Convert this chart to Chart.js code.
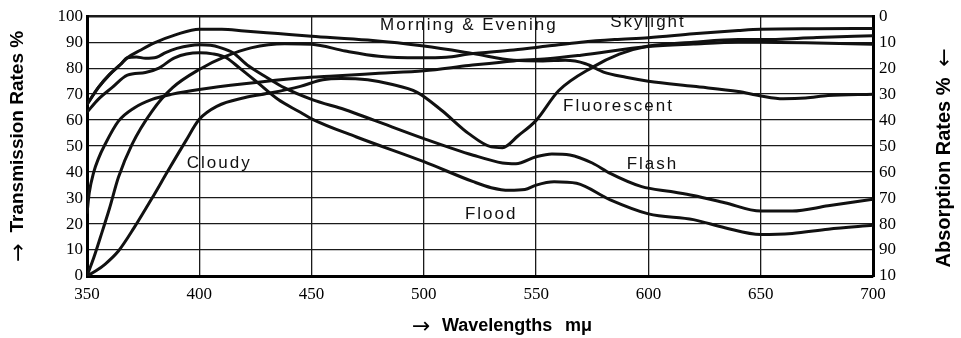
<!DOCTYPE html>
<html><head><meta charset="utf-8">
<script src="https://cdn.jsdelivr.net/npm/chart.js@4.4.1/dist/chart.umd.min.js"></script>
<style>html,body{margin:0;padding:0;background:#fff;}canvas{display:block;}</style>
</head><body>
<canvas id="c" width="961" height="338" style="width:961px;height:338px"></canvas>
<script>
// ---- data (wavelength in mμ, transmission in %) ----
const morningNm = [350,355,360,365,368,374,380,390,400,410,420,435,450,475,500,522,540,553,563,572,580,590,600,620,640,650,660,670,680,700];
const morningT  = [66,72.5,77.5,81.5,84,87,89.7,93,95,95,94.3,93.3,92.3,90.8,88.5,85.6,83,82.8,83,81.7,78.5,76.5,75,73,71,69.3,68.2,68.5,69.5,70];

const flashNm = [350,355,360,365,368,372,376,381,385,390,400,405,409,415,422,429,438,450,465,478,500,522,535,541,550,557,565,575,583,597,610,620,634,650,664,680,700];
const flashT  = [66,72.5,77.5,81.5,84,84.3,83.8,84.2,86,87.6,89,88.8,88,85.9,80.8,77,72.4,68,64,59.9,52.9,46.5,43.5,43.2,45.9,47,46.6,43.5,39.5,34.4,32.5,31,28.2,25,25,27,29.5];

const floodNm = [350,355,361,368,376,382,389,400,406,412,418,426,435,445,450,470,500,522,530,538,545,550,558,568,583,600,620,634,650,664,680,700];
const floodT  = [63,68,72.4,77.3,78.3,80,84,85.9,85.5,84,80,74.4,68,63,60.5,53.5,44,36.3,34,33,33.3,35,36.3,35.7,29.3,23.9,21.7,18.6,16,16.4,18,19.5];

const skylightNm = [350,353,356,360,364,370,379,388,400,412,423,438,450,465,480,498,510,520,540,555,570,585,600,620,640,650,675,700];
const skylightT  = [0,7,15,26,38,50.6,63.5,72.4,79.5,84.6,87.8,89.4,89.2,86.6,84.6,84,84.2,85.4,87,88.5,90,91,91.7,93.2,94.5,95,95.2,95.3];

const cloudyNm = [350,351,353,355,358,364,371,379,388,400,420,445,460,480,500,520,540,555,570,600,620,640,650,670,700];
const cloudyT  = [24,32,40,45,50.6,59.6,64.7,68,70,71.8,74,76.2,77,78,79,81,82.8,83.6,85,88.3,89.3,90,90,89.8,89.2];

const fluorNm = [350,354,358,364,371,379,386,394,400,408,420,432,445,455,463,475,485,497,508,520,530,535,542,550,560,575,587,600,620,640,650,675,700];
const fluorT  = [0,2,4.5,9.6,18.6,30,40.4,52,60.3,65.4,68.6,70.5,73,75.5,76,75.5,73.9,70.7,63.7,54.8,49.7,49.4,54,59.9,71.3,80.3,85.4,88.5,90,91,91,91.8,92.5];

const seriesNames = ['Morning & Evening','Flash','Flood','Skylight','Cloudy','Fluorescent'];
const seriesNm = [morningNm, flashNm, floodNm, skylightNm, cloudyNm, fluorNm];
const seriesT  = [morningT, flashT, floodT, skylightT, cloudyT, fluorT];

const rightTickLabels = ['10','90','80','70','60','50','40','30','20','10','0'];

// curve labels drawn inside the plot: [text, wavelength of left edge, baseline %]
const curveLabels = [
  ['Morning & Evening', 480.5, 94.5],
  ['Skylight', 583, 96],
  ['Fluorescent', 562, 63.5],
  ['Flash', 590.3, 41],
  ['Flood', 518.3, 21.8],
  ['Cloudy', 394.4, 41.7]
];

const datasets = seriesNames.map((name, i) => ({
  label: name,
  data: seriesNm[i].map((x, j) => ({x: x, y: seriesT[i][j]})),
  borderColor: '#111',
  borderWidth: 3,
  pointRadius: 0,
  fill: false,
  cubicInterpolationMode: 'monotone',
  yAxisID: 'y'
}));

function spaced(ctx, text, x, y, sp) {
  let cx = x;
  for (const ch of text) {
    ctx.fillText(ch, cx, y);
    cx += ctx.measureText(ch).width + sp;
  }
}

const textPlugin = {
  id: 'texts',
  afterDatasetsDraw(chart) {
    const ctx = chart.ctx;
    const xs = chart.scales.x, ys = chart.scales.y;
    ctx.save();
    ctx.fillStyle = '#111';
    ctx.font = '17px "Liberation Sans", Arial, sans-serif';
    ctx.textBaseline = 'alphabetic';
    ctx.textAlign = 'left';
    curveLabels.forEach(l => {
      spaced(ctx, l[0], xs.getPixelForValue(l[1]), ys.getPixelForValue(l[2]), 2);
    });
    ctx.restore();

    // axis titles
    ctx.save();
    ctx.fillStyle = '#000';
    ctx.textBaseline = 'middle';
    ctx.textAlign = 'center';
    // left
    ctx.save();
    ctx.translate(18, 0);
    ctx.rotate(-Math.PI / 2);
    ctx.font = 'bold 19px "Liberation Sans", Arial, sans-serif';
    ctx.fillText('Transmission Rates %', -131.7, 0);
    ctx.font = '22px "DejaVu Sans", sans-serif';
    ctx.fillText('\u2192', -252.5, 1);
    ctx.restore();
    // right
    ctx.save();
    ctx.translate(944, 0);
    ctx.rotate(-Math.PI / 2);
    ctx.font = 'bold 20px "Liberation Sans", Arial, sans-serif';
    ctx.fillText('Absorption Rates %', -172.5, 0);
    ctx.font = '22px "DejaVu Sans", sans-serif';
    ctx.fillText('\u2190', -57.5, 1);
    ctx.restore();
    // bottom
    ctx.textAlign = 'left';
    ctx.textBaseline = 'alphabetic';
    ctx.font = '22px "DejaVu Sans", sans-serif';
    ctx.fillText('\u2192', 412, 333);
    ctx.font = 'bold 18px "Liberation Sans", Arial, sans-serif';
    ctx.fillText('Wavelengths', 442, 331);
    ctx.fillText('m\u03bc', 565, 331);
    ctx.restore();
  }
};

new Chart(document.getElementById('c'), {
  type: 'line',
  data: { datasets: datasets },
  options: {
    responsive: false,
    animation: false,
    devicePixelRatio: 1,
    layout: { padding: { top: 15, left: 0, right: 0, bottom: 0 } },
    plugins: { legend: { display: false }, tooltip: { enabled: false } },
    scales: {
      x: {
        type: 'linear', min: 350, max: 700,
        afterFit: s => { s.height = 62; },
        ticks: { stepSize: 50, color: '#000', padding: 8,
                 font: { family: '"Liberation Serif", "Times New Roman", serif', size: 17 } },
        grid: { color: '#1a1a1a', lineWidth: 1.3, drawTicks: false },
        border: { display: true, color: '#000', width: 3 }
      },
      y: {
        position: 'left', min: 0, max: 100,
        afterFit: s => { s.width = 87; },
        ticks: { stepSize: 10, color: '#000', padding: 4,
                 font: { family: '"Liberation Serif", "Times New Roman", serif', size: 17 } },
        grid: { color: '#1a1a1a', drawTicks: false,
                lineWidth: c => (c.tick && c.tick.value === 100) ? 2.5 : 1.3 },
        border: { display: true, color: '#000', width: 3 }
      },
      y2: {
        position: 'right', min: 0, max: 100,
        afterFit: s => { s.width = 88; },
        ticks: { stepSize: 10, color: '#000', padding: 6,
                 callback: v => rightTickLabels[Math.round(v / 10)],
                 font: { family: '"Liberation Serif", "Times New Roman", serif', size: 17 } },
        grid: { display: false, drawTicks: false },
        border: { display: true, color: '#000', width: 3 }
      }
    }
  },
  plugins: [textPlugin]
});
</script>
</body></html>
